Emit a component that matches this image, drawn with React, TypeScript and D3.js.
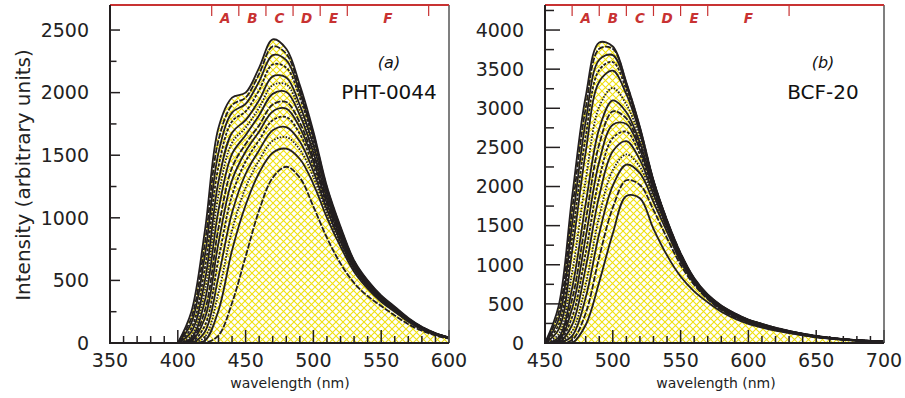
import { useRef, useEffect } from "react";
import * as d3 from "d3";

const W = 905, H = 398;

// ---- panel (a) PHT-0044 ----
const waveA = [400, 410, 420, 430, 440, 450, 460, 470, 480, 490, 500, 510, 520, 530, 540, 550, 560, 570, 580, 590, 600];
const spectraA = [
  [0, 250, 900, 1720, 1960, 2000, 2200, 2425, 2350, 2060, 1690, 1250, 930, 660, 500, 380, 290, 200, 130, 80, 45],
  [0, 200, 800, 1620, 1900, 1960, 2150, 2370, 2310, 2030, 1670, 1240, 920, 655, 495, 375, 285, 195, 128, 78, 44],
  [0, 160, 700, 1520, 1840, 1910, 2090, 2300, 2260, 2000, 1650, 1230, 910, 650, 490, 372, 282, 193, 126, 77, 43],
  [0, 120, 600, 1410, 1770, 1850, 2020, 2225, 2200, 1960, 1620, 1215, 900, 645, 485, 368, 280, 190, 124, 76, 42],
  [0, 90, 500, 1290, 1680, 1780, 1940, 2130, 2120, 1900, 1580, 1195, 885, 638, 480, 364, 276, 188, 122, 75, 42],
  [0, 60, 420, 1180, 1600, 1720, 1880, 2060, 2065, 1860, 1550, 1180, 875, 632, 476, 360, 273, 186, 120, 74, 41],
  [0, 40, 340, 1060, 1510, 1660, 1820, 1990, 2005, 1820, 1520, 1160, 865, 625, 472, 357, 270, 184, 119, 73, 41],
  [0, 25, 260, 920, 1400, 1590, 1740, 1905, 1925, 1760, 1480, 1135, 850, 617, 467, 353, 267, 182, 118, 72, 40],
  [0, 15, 200, 800, 1300, 1530, 1690, 1850, 1872, 1720, 1450, 1115, 840, 610, 462, 350, 264, 180, 116, 71, 40],
  [0, 8, 140, 670, 1180, 1450, 1620, 1780, 1805, 1670, 1410, 1090, 825, 602, 457, 346, 261, 178, 115, 70, 39],
  [0, 0, 90, 530, 1040, 1350, 1540, 1700, 1725, 1610, 1370, 1065, 808, 593, 450, 341, 258, 176, 113, 69, 38],
  [0, 0, 50, 400, 900, 1240, 1460, 1615, 1645, 1545, 1325, 1035, 790, 583, 443, 336, 254, 173, 111, 68, 38],
  [0, 0, 20, 260, 740, 1100, 1360, 1520, 1552, 1470, 1270, 1000, 770, 570, 435, 330, 250, 170, 109, 66, 37],
  [0, 0, 0, 60, 320, 690, 1060, 1320, 1408, 1320, 1090, 840, 635, 480, 375, 295, 220, 150, 98, 60, 34],
];
const xTicksA = [350, 400, 450, 500, 550, 600];
const yTicksA = [0, 500, 1000, 1500, 2000, 2500];
const bandEdgesA = [425, 445, 465, 485, 505, 525, 585];

// ---- panel (b) BCF-20 ----
const waveB = [450, 460, 470, 480, 490, 500, 510, 520, 530, 540, 550, 560, 570, 580, 590, 600, 610, 620, 630, 640, 650, 660, 670, 680, 690, 700];
const spectraB = [
  [0, 470, 1870, 3150, 3840, 3790, 3330, 2760, 2080, 1570, 1150, 830, 620, 480, 380, 300, 245, 195, 155, 120, 90, 68, 50, 37, 27, 20],
  [0, 380, 1700, 3000, 3760, 3760, 3320, 2750, 2075, 1565, 1145, 825, 616, 477, 377, 298, 243, 193, 153, 119, 89, 67, 49, 36, 26, 19],
  [0, 300, 1520, 2830, 3620, 3680, 3290, 2730, 2070, 1560, 1140, 820, 612, 474, 374, 296, 241, 191, 152, 118, 88, 66, 49, 36, 26, 19],
  [0, 230, 1340, 2640, 3490, 3590, 3240, 2710, 2060, 1555, 1135, 815, 608, 470, 371, 293, 239, 189, 150, 117, 87, 66, 48, 35, 26, 19],
  [0, 170, 1170, 2440, 3340, 3480, 3180, 2680, 2050, 1550, 1130, 810, 604, 466, 368, 290, 236, 187, 149, 116, 86, 65, 48, 35, 25, 18],
  [0, 110, 900, 2080, 3020, 3260, 3050, 2620, 2030, 1540, 1120, 805, 600, 462, 364, 287, 233, 185, 147, 114, 85, 64, 47, 35, 25, 18],
  [0, 70, 700, 1780, 2740, 3100, 2950, 2560, 2010, 1530, 1110, 800, 596, 458, 360, 284, 230, 183, 145, 113, 84, 63, 47, 34, 25, 18],
  [0, 45, 560, 1560, 2540, 2960, 2870, 2510, 1990, 1520, 1100, 795, 592, 454, 356, 281, 228, 181, 144, 112, 83, 63, 46, 34, 25, 18],
  [0, 30, 440, 1350, 2320, 2790, 2800, 2470, 1970, 1510, 1090, 790, 588, 450, 352, 278, 225, 179, 142, 110, 82, 62, 46, 33, 24, 17],
  [0, 15, 330, 1150, 2100, 2620, 2700, 2410, 1940, 1495, 1080, 785, 584, 446, 348, 275, 222, 177, 140, 109, 81, 61, 45, 33, 24, 17],
  [0, 5, 230, 960, 1880, 2450, 2580, 2340, 1900, 1475, 1070, 780, 580, 442, 344, 272, 220, 175, 139, 108, 80, 60, 45, 33, 24, 17],
  [0, 0, 150, 750, 1620, 2210, 2410, 2250, 1850, 1450, 1055, 772, 575, 437, 340, 268, 217, 172, 137, 106, 79, 60, 44, 32, 23, 17],
  [0, 0, 90, 580, 1400, 2010, 2280, 2170, 1800, 1420, 1040, 765, 570, 432, 336, 264, 214, 170, 135, 105, 78, 59, 44, 32, 23, 16],
  [0, 0, 40, 380, 1100, 1730, 2080, 2020, 1700, 1340, 1000, 745, 560, 424, 330, 258, 209, 166, 132, 102, 76, 58, 43, 31, 23, 16],
  [0, 0, 0, 230, 780, 1400, 1880, 1850, 1460, 1120, 850, 660, 520, 400, 312, 245, 198, 158, 126, 98, 73, 56, 41, 30, 22, 16],
];
const xTicksB = [450, 500, 550, 600, 650, 700];
const yTicksB = [0, 500, 1000, 1500, 2000, 2500, 3000, 3500, 4000];
const bandEdgesB = [470, 490, 510, 530, 550, 570, 630];

const bandLabels = ["A", "B", "C", "D", "E", "F"];

const FONT = "DejaVu Sans, sans-serif";
const RED = "#c83232";
const INK = "#231f20";

function drawPanel(svg, p) {
  const x = d3.scaleLinear().domain(p.xDomain).range([p.left, p.right]);
  const y = d3.scaleLinear().domain(p.yDomain).range([p.bottom, p.top]);
  const g = svg.append("g");

  // keep smoothed curves inside the frame
  svg.select("defs").append("clipPath").attr("id", p.clipId)
    .append("rect")
    .attr("x", p.left).attr("y", p.top)
    .attr("width", p.right - p.left).attr("height", p.bottom - p.top);

  const area = d3.area()
    .x((d, i) => x(p.wave[i]))
    .y0(y(0))
    .y1((d) => y(d))
    .curve(d3.curveCatmullRom.alpha(0.5));
  const line = d3.line()
    .x((d, i) => x(p.wave[i]))
    .y((d) => y(d))
    .curve(d3.curveCatmullRom.alpha(0.5));

  const plot = g.append("g").attr("clip-path", `url(#${p.clipId})`);

  // hatched fills
  plot.selectAll("path.fill")
    .data(p.spectra)
    .join("path")
    .attr("class", "fill")
    .attr("d", area)
    .attr("fill", "url(#hatch)");

  // spectra lines
  const dashes = [null, "6,1.5", null, "3,1.5", null, "1.5,1.5"];
  plot.selectAll("path.spec")
    .data(p.spectra)
    .join("path")
    .attr("class", "spec")
    .attr("d", line)
    .attr("fill", "none")
    .attr("stroke", INK)
    .attr("stroke-width", 1.8)
    .attr("stroke-dasharray", (d, i) => dashes[i % dashes.length]);

  // x ticks (minor every 10 nm, major every 50)
  const xt = d3.range(p.xDomain[0], p.xDomain[1] + 1, 10);
  g.selectAll("line.xt")
    .data(xt)
    .join("line")
    .attr("x1", (d) => x(d))
    .attr("x2", (d) => x(d))
    .attr("y1", p.bottom)
    .attr("y2", (d) => p.bottom - (d % 50 === 0 ? 13 : 7))
    .attr("stroke", INK)
    .attr("stroke-width", 1.5);

  // y ticks (minor every 250)
  const yt = d3.range(0, p.yDomain[1] + 1, 250);
  g.selectAll("line.yt")
    .data(yt)
    .join("line")
    .attr("x1", p.left)
    .attr("x2", (d) => p.left + (d % 500 === 0 ? p.yMajor : p.yMinor))
    .attr("y1", (d) => y(d))
    .attr("y2", (d) => y(d))
    .attr("stroke", INK)
    .attr("stroke-width", 1.5);

  // frame
  g.append("line").attr("x1", p.right).attr("x2", p.right).attr("y1", p.top).attr("y2", p.bottom)
    .attr("stroke", "#555").attr("stroke-width", 1.5);
  g.append("line").attr("x1", p.left).attr("x2", p.right).attr("y1", p.top).attr("y2", p.top)
    .attr("stroke", RED).attr("stroke-width", 2);
  g.append("line").attr("x1", p.left).attr("x2", p.left).attr("y1", p.top).attr("y2", p.bottom)
    .attr("stroke", INK).attr("stroke-width", 2);
  g.append("line").attr("x1", p.left - 1).attr("x2", p.right).attr("y1", p.bottom).attr("y2", p.bottom)
    .attr("stroke", INK).attr("stroke-width", 2.2);

  // red region markers along the top
  g.selectAll("line.band")
    .data(p.bands)
    .join("line")
    .attr("x1", (d) => x(d))
    .attr("x2", (d) => x(d))
    .attr("y1", p.top)
    .attr("y2", p.top + 11)
    .attr("stroke", RED)
    .attr("stroke-width", 1.2);
  g.selectAll("text.band")
    .data(bandLabels)
    .join("text")
    .attr("x", (d, i) => x((p.bands[i] + p.bands[i + 1]) / 2))
    .attr("y", p.top + 18)
    .attr("text-anchor", "middle")
    .attr("font-family", FONT)
    .attr("font-size", 13.5)
    .attr("font-weight", "bold")
    .attr("font-style", "italic")
    .attr("fill", RED)
    .text((d) => d);

  // tick labels
  g.selectAll("text.xl")
    .data(p.xTicks)
    .join("text")
    .attr("x", (d) => x(d))
    .attr("y", 367)
    .attr("text-anchor", "middle")
    .attr("font-family", FONT)
    .attr("font-size", 19)
    .attr("fill", "#222")
    .text((d) => d);
  g.selectAll("text.yl")
    .data(p.yTicks)
    .join("text")
    .attr("x", p.left - 21)
    .attr("y", (d) => y(d))
    .attr("dy", "0.36em")
    .attr("text-anchor", "end")
    .attr("font-family", FONT)
    .attr("font-size", 19)
    .attr("fill", "#222")
    .text((d) => d);

  // axis title
  g.append("text")
    .attr("x", p.xTitleX)
    .attr("y", 388)
    .attr("text-anchor", "middle")
    .attr("font-family", FONT)
    .attr("font-size", 14)
    .attr("fill", "#222")
    .text("wavelength  (nm)");

  // panel tag and sample name
  g.append("text")
    .attr("x", p.tagX)
    .attr("y", 68)
    .attr("text-anchor", "middle")
    .attr("font-family", FONT)
    .attr("font-size", 16)
    .attr("font-style", "italic")
    .attr("fill", "#111")
    .text(p.tag);
  g.append("text")
    .attr("x", p.tagX)
    .attr("y", 99)
    .attr("text-anchor", "middle")
    .attr("font-family", FONT)
    .attr("font-size", 20)
    .attr("fill", "#111")
    .text(p.name);
}

export default function App() {
  const svgRef = useRef(null);

  useEffect(() => {
    const svg = d3.select(svgRef.current);

    const defs = svg.append("defs");
    const pat = defs.append("pattern")
      .attr("id", "hatch")
      .attr("patternUnits", "userSpaceOnUse")
      .attr("width", 7)
      .attr("height", 7);
    pat.append("rect").attr("width", 7).attr("height", 7).attr("fill", "#fff");
    pat.append("path").attr("d", "M0,0 L7,7 M7,0 L0,7")
      .attr("stroke", "#f0e010").attr("stroke-width", 1.1);

    drawPanel(svg, {
      clipId: "clipA",
      left: 110, right: 449, top: 5, bottom: 343,
      xDomain: [350, 600], yDomain: [0, 2700],
      wave: waveA, spectra: spectraA,
      xTicks: xTicksA, yTicks: yTicksA, bands: bandEdgesA,
      yMajor: 10, yMinor: 6.5,
      xTitleX: 290, tagX: 389, tag: "(a)", name: "PHT-0044",
    });
    drawPanel(svg, {
      clipId: "clipB",
      left: 545, right: 884, top: 5, bottom: 343,
      xDomain: [450, 700], yDomain: [0, 4320],
      wave: waveB, spectra: spectraB,
      xTicks: xTicksB, yTicks: yTicksB, bands: bandEdgesB,
      yMajor: 15, yMinor: 9,
      xTitleX: 716, tagX: 823, tag: "(b)", name: "BCF-20",
    });

    // shared y-axis title
    svg.append("text")
      .attr("transform", "translate(30,175) rotate(-90)")
      .attr("text-anchor", "middle")
      .attr("font-family", FONT)
      .attr("font-size", 20)
      .attr("fill", "#222")
      .text("Intensity (arbitrary units)");

    return () => {
      svg.selectAll("*").remove();
    };
  }, []);

  return (
    <svg
      ref={svgRef}
      width={W}
      height={H}
      style={{ position: "absolute", left: 0, top: 0, background: "#fff" }}
    />
  );
}
